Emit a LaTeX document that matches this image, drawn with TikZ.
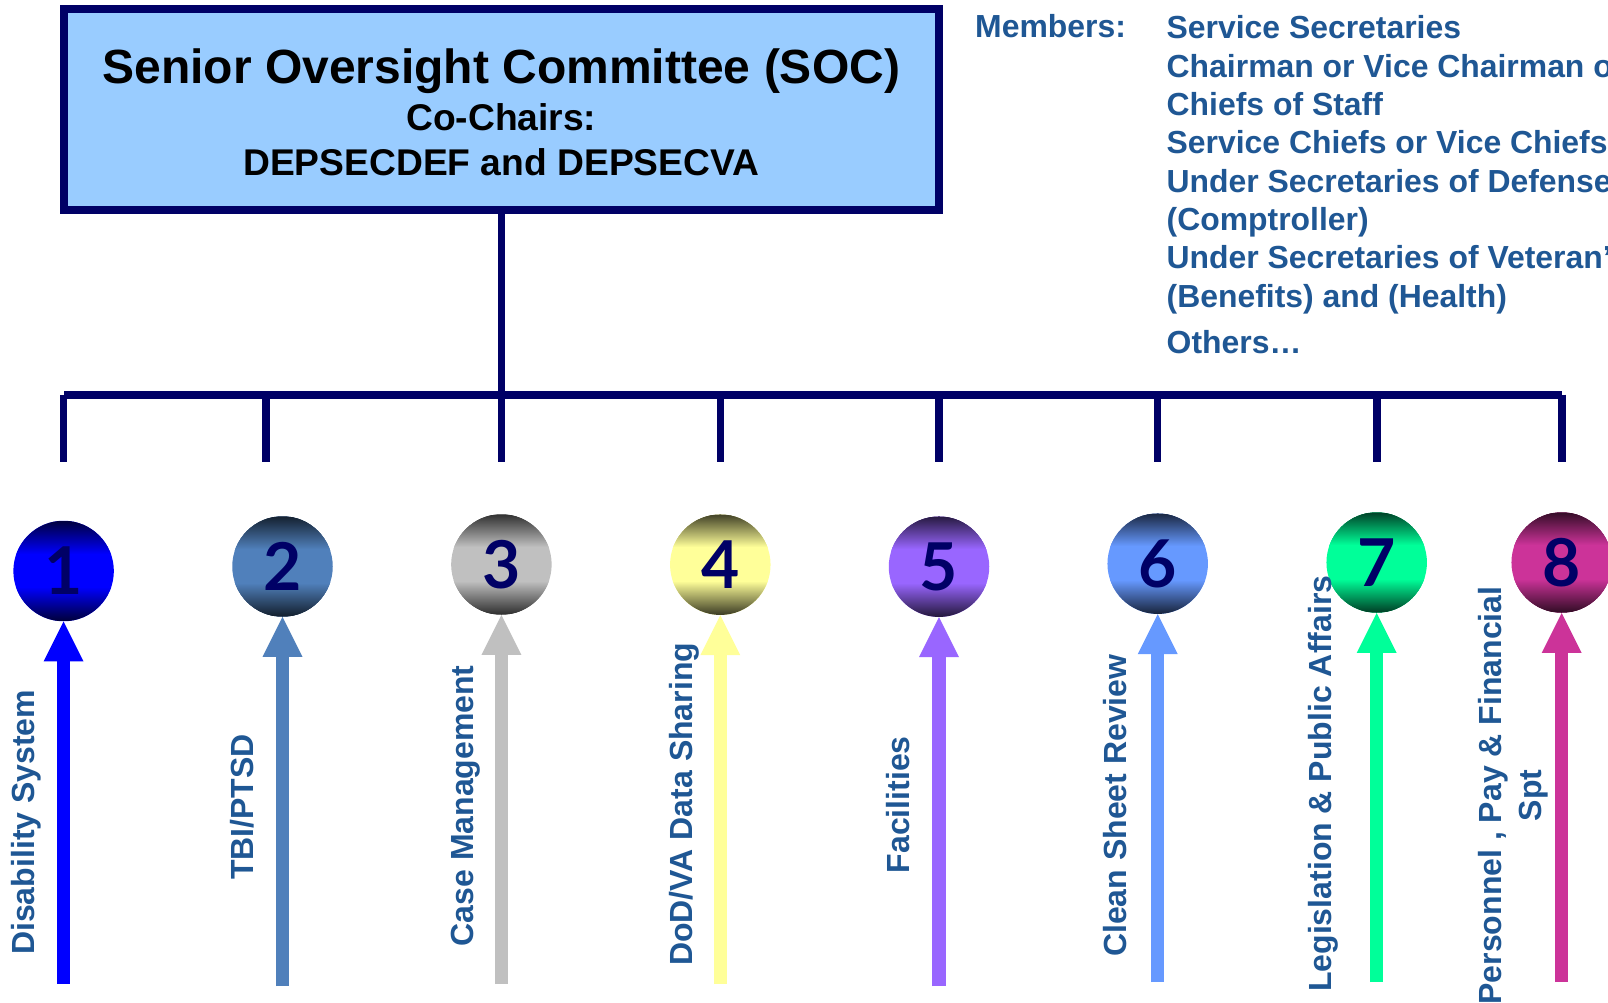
\documentclass[tikz,border=0pt]{standalone}
\usepackage{fontspec}
\setmainfont{Liberation Sans}[BoldFont={Liberation Sans Bold}]
\newfontfamily\digitfont{Lato}
\usetikzlibrary{arrows.meta,calc}
\definecolor{navy}{HTML}{000066}
\definecolor{boxblue}{HTML}{99CCFF}
\definecolor{textblue}{HTML}{1F5794}
\definecolor{ca}{HTML}{0000FF}
\definecolor{cb}{HTML}{5080BB}
\definecolor{cc}{HTML}{C0C0C0}
\definecolor{cd}{HTML}{FFFF99}
\definecolor{ce}{HTML}{9966FF}
\definecolor{cf}{HTML}{6699FF}
\definecolor{cg}{HTML}{00FF99}
\definecolor{ch}{HTML}{CC3399}
\newcommand{\socline}[2]{\hbox to \hsize{\hss\smash{\fontsize{#1}{#1}\selectfont\bfseries #2}\hss}}
\tikzset{
  conn/.style={draw=navy,line width=7.5pt},
  busbar/.style={draw=navy,line width=8pt},
  ball/.style={circle,minimum size=100.5pt,inner sep=0pt,text=navy,fill=#1,
    font=\digitfont\bfseries\fontsize{66}{66}\selectfont,
    path picture={
      \foreach \k in {0,...,33}{
        \pgfmathsetmacro\mixp{25+75*\k/33}
        \fill[#1!\mixp!black]
          ($(path picture bounding box.north west)+(0,\k)$) rectangle
          ($(path picture bounding box.north east)+(0,\k+1.4)$);
        \fill[#1!\mixp!black]
          ($(path picture bounding box.south west)+(0,-\k)$) rectangle
          ($(path picture bounding box.south east)+(0,-\k-1.4)$);
      }
    }},
  uparrow/.style={draw=#1,line width=13.3pt,
    -{Triangle[length=40pt,width=40pt,line width=0pt,fill=#1]}},
  memtext/.style={text=textblue,inner sep=0pt,
    font=\bfseries\fontsize{31.9}{38.33}\selectfont},
  vlabel/.style={text=textblue,inner sep=0pt,rotate=90,
    font=\bfseries\fontsize{32}{38.33}\selectfont},
  socbox/.style={draw=navy,line width=8pt,fill=boxblue,inner sep=0pt,
    minimum width=875.5pt,minimum height=201pt}
}
\begin{document}
\begin{tikzpicture}[x=1pt,y=-1pt]
\useasboundingbox (0,0) rectangle (1608,1003);
\fill[white] (0,0) rectangle (1608,1003);

\node[socbox] (soc) at (501.3,109.5) {\vbox{\hsize=840pt\offinterlineskip
  \vskip40.3pt
  \socline{48}{Senior Oversight Committee (SOC)}
  \vskip46.7pt
  \socline{37.2}{Co-Chairs:}
  \vskip45pt
  \socline{37.2}{DEPSECDEF and DEPSECVA}}};

\node[memtext,anchor=base west] (memhead) at (975,37.8) {Members:};
\node[memtext,anchor=north west,align=left] (memlist) at (1166.5,15.4) {%
  Service Secretaries\\
  Chairman or Vice Chairman o\\
  Chiefs of Staff\\
  Service Chiefs or Vice Chiefs\\
  Under Secretaries of Defense\\
  (Comptroller)\\
  Under Secretaries of Veteran’\\
  (Benefits) and (Health)\\[7.7pt]
  Others…};

% bus
\coordinate (barL) at (64,394.7);
\coordinate (barR) at (1561.8,394.7);
\draw[conn] (soc.south) -- (soc.south |- barL);
\foreach \i/\x in {1/63.3,2/265.8,3/501.5,4/720.3,5/939,6/1157.7,7/1376.8,8/1562}{
  \coordinate (j\i) at (\x,394.7);
  \coordinate (d\i) at (\x,461.7);
  \draw[conn] (j\i) -- (d\i);
}
\draw[busbar] (barL) -- (barR);

% arrows and balls
\foreach \i/\x/\y/\b/\c in {
  1/63.6/571/983.7/ca,
  2/282.5/566.5/986/cb,
  3/501.4/564.5/984/cc,
  4/720.3/564.7/984/cd,
  5/939/566.7/986/ce,
  6/1157.7/563.7/982/cf,
  7/1376.7/562.5/982/cg,
  8/1561.7/562.5/982/ch}{
  \node[ball=\c] (c\i) at (\x,\y) {\i};
  \coordinate (t\i) at (\x,\b);
  \draw[uparrow=\c] (t\i) -- (c\i.south);
}

% labels
\node[vlabel,anchor=base west] (l1) at (34.5,955) {Disability System};
\node[vlabel,anchor=base west] (l2) at (253,880) {TBI/PTSD};
\node[vlabel,anchor=base west] (l3) at (473.5,946.5) {Case Management};
\node[vlabel,anchor=base west] (l4) at (692,966) {DoD/VA Data Sharing};
\node[vlabel,anchor=base west] (l5) at (909.5,873.5) {Facilities};
\node[vlabel,anchor=base west] (l6) at (1126.5,957) {Clean Sheet Review};
\node[vlabel,anchor=base west] (l7) at (1331.5,992) {Legislation \& Public Affairs};
\node[vlabel,align=center] (l8) at (1513,795.5) {Personnel , Pay \& Financial\\[2pt]Spt};
\end{tikzpicture}
\end{document}
